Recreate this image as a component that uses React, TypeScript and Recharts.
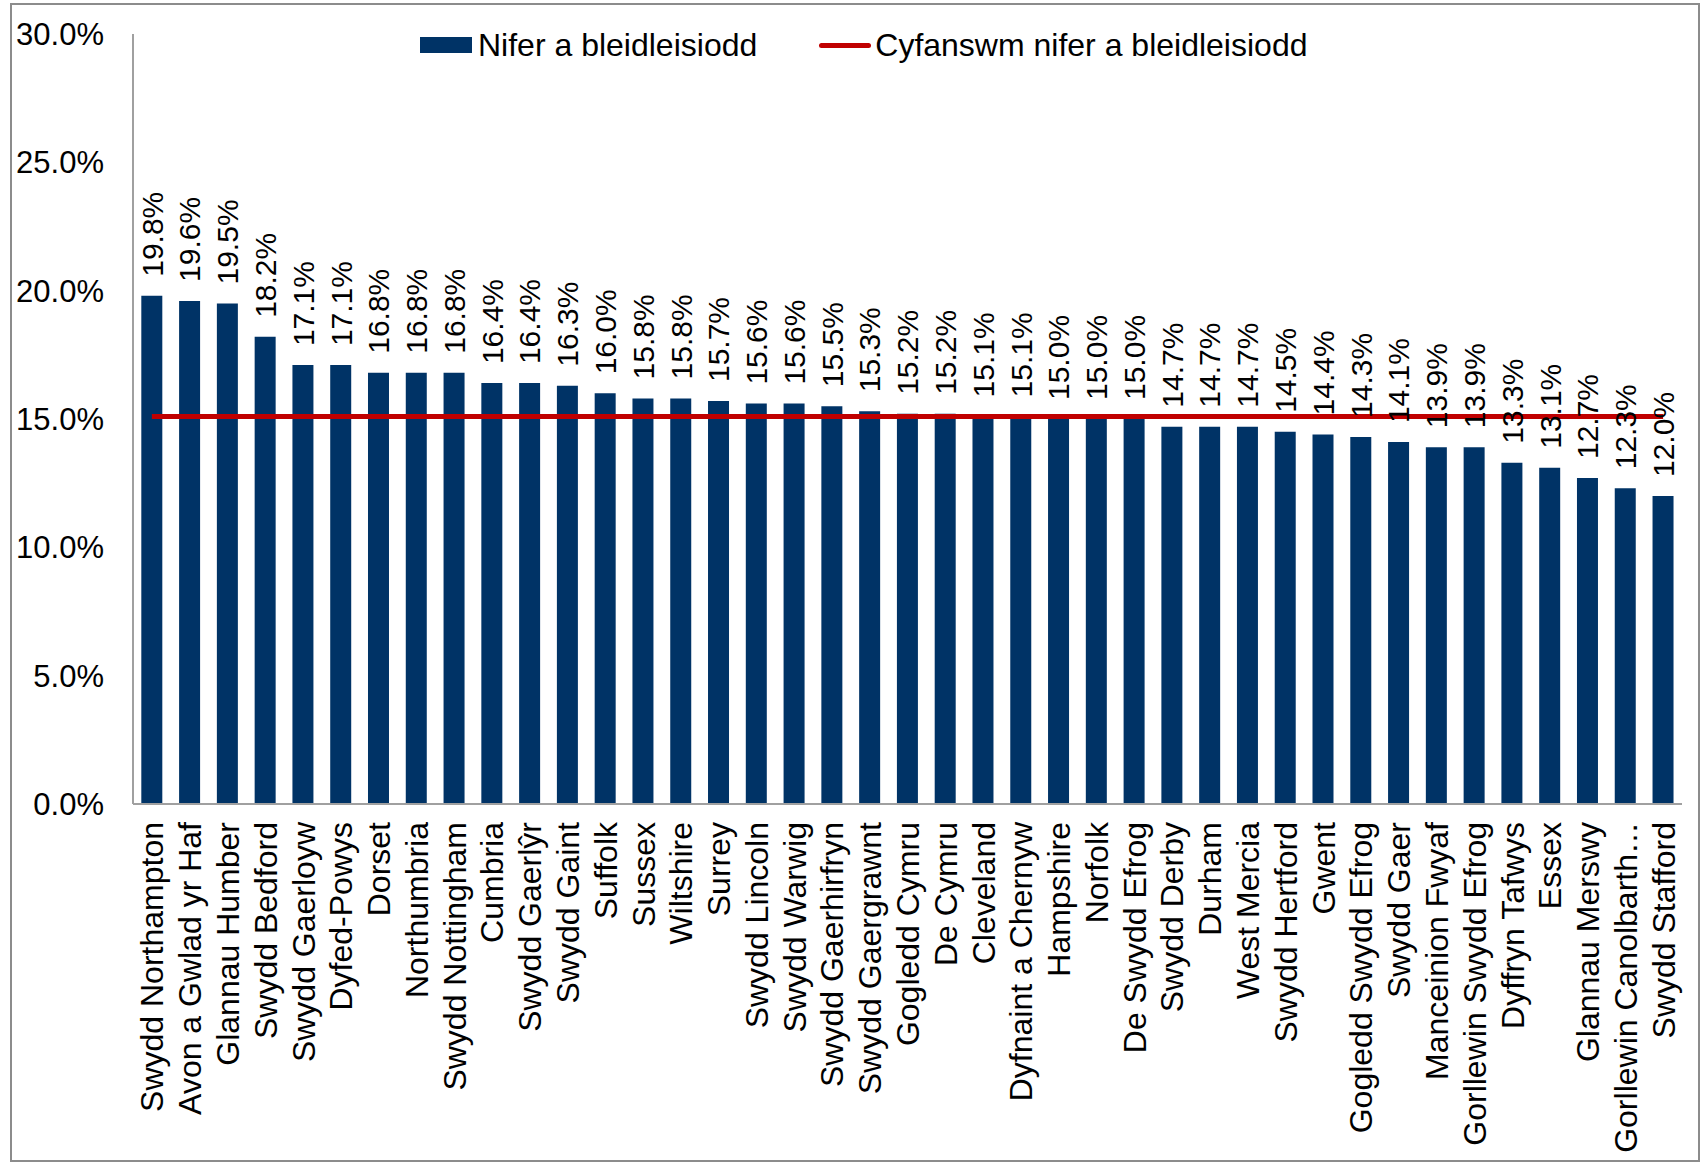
import { Bar, ComposedChart, Line, LabelList, XAxis, YAxis } from "recharts";

const forces = [
  "Swydd Northampton",
  "Avon a Gwlad yr Haf",
  "Glannau Humber",
  "Swydd Bedford",
  "Swydd Gaerloyw",
  "Dyfed-Powys",
  "Dorset",
  "Northumbria",
  "Swydd Nottingham",
  "Cumbria",
  "Swydd Gaerlŷr",
  "Swydd Gaint",
  "Suffolk",
  "Sussex",
  "Wiltshire",
  "Surrey",
  "Swydd Lincoln",
  "Swydd Warwig",
  "Swydd Gaerhirfryn",
  "Swydd Gaergrawnt",
  "Gogledd Cymru",
  "De Cymru",
  "Cleveland",
  "Dyfnaint a Chernyw",
  "Hampshire",
  "Norfolk",
  "De Swydd Efrog",
  "Swydd Derby",
  "Durham",
  "West Mercia",
  "Swydd Hertford",
  "Gwent",
  "Gogledd Swydd Efrog",
  "Swydd Gaer",
  "Manceinion Fwyaf",
  "Gorllewin Swydd Efrog",
  "Dyffryn Tafwys",
  "Essex",
  "Glannau Merswy",
  "Gorllewin Canolbarth…",
  "Swydd Stafford",
];

const turnout = [
  19.8, 19.6, 19.5, 18.2, 17.1, 17.1, 16.8, 16.8, 16.8, 16.4, 16.4, 16.3, 16.0,
  15.8, 15.8, 15.7, 15.6, 15.6, 15.5, 15.3, 15.2, 15.2, 15.1, 15.1, 15.0, 15.0,
  15.0, 14.7, 14.7, 14.7, 14.5, 14.4, 14.3, 14.1, 13.9, 13.9, 13.3, 13.1, 12.7,
  12.3, 12.0,
];

const overallTurnout = 15.1;

const yTicks = [0, 5, 10, 15, 20, 25, 30];

const data = forces.map((name, i) => ({
  name,
  value: turnout[i],
  total: overallTurnout,
}));

const FONT = "'Liberation Sans', Arial, sans-serif";
const BAR = "#003366";
const RED = "#C00000";

function CategoryTick(props: any) {
  const { x, payload } = props;
  return (
    <text
      transform={`translate(${x},${822}) rotate(-90)`}
      textAnchor="end"
      dy="0.36em"
      fontSize={32}
      fontFamily={FONT}
      fill="#000"
    >
      {payload.value}
    </text>
  );
}

function ValueLabel(props: any) {
  const { x, y, width, value } = props;
  const cx = x + width / 2;
  return (
    <text
      transform={`translate(${cx},${y - 19}) rotate(-90)`}
      textAnchor="start"
      dy="0.36em"
      fontSize={30}
      fontFamily={FONT}
      fill="#000"
    >
      {`${Number(value).toFixed(1)}%`}
    </text>
  );
}

export default function App() {
  return (
    <div
      style={{
        position: "absolute",
        left: 0,
        top: 0,
        width: 1703,
        height: 1167,
        background: "#fff",
        fontFamily: FONT,
      }}
    >
      <div
        style={{
          position: "absolute",
          left: 10,
          top: 3,
          width: 1690,
          height: 1159,
          border: "2px solid #8c8c8c",
          boxSizing: "border-box",
        }}
      />
      <div
        style={{
          position: "absolute",
          left: 420,
          top: 25,
          display: "flex",
          alignItems: "center",
          fontSize: 32,
          color: "#000",
          whiteSpace: "nowrap",
          lineHeight: "40px",
        }}
      >
        <span
          style={{ width: 52, height: 16, background: BAR, marginRight: 6 }}
        />
        <span>Nifer a bleidleisiodd</span>
        <span
          style={{
            width: 52,
            height: 5,
            background: RED,
            borderRadius: 3,
            marginLeft: 62,
            marginRight: 4,
          }}
        />
        <span>Cyfanswm nifer a bleidleisiodd</span>
      </div>
      <ComposedChart
        width={1703}
        height={1167}
        data={data}
        margin={{ top: 34, right: 21, left: 33, bottom: 63 }}
        barCategoryGap="22%"
        style={{ position: "absolute", left: 0, top: 0 }}
      >
        <XAxis
          dataKey="name"
          interval={0}
          tickLine={false}
          axisLine={{ stroke: "#a0a0a0", strokeWidth: 2 }}
          height={300}
          tick={<CategoryTick />}
        />
        <YAxis
          width={100}
          domain={[0, 30]}
          ticks={yTicks}
          tickLine={false}
          axisLine={{ stroke: "#a0a0a0", strokeWidth: 2 }}
          tickMargin={23}
          tick={{ fill: "#000", fontSize: 31, fontFamily: FONT }}
          tickFormatter={(v) => `${Number(v).toFixed(1)}%`}
        />
        <Bar dataKey="value" fill={BAR} isAnimationActive={false}>
          <LabelList dataKey="value" content={<ValueLabel />} />
        </Bar>
        <Line
          type="linear"
          dataKey="total"
          stroke={RED}
          strokeWidth={5}
          dot={false}
          activeDot={false}
          isAnimationActive={false}
        />
      </ComposedChart>
    </div>
  );
}
